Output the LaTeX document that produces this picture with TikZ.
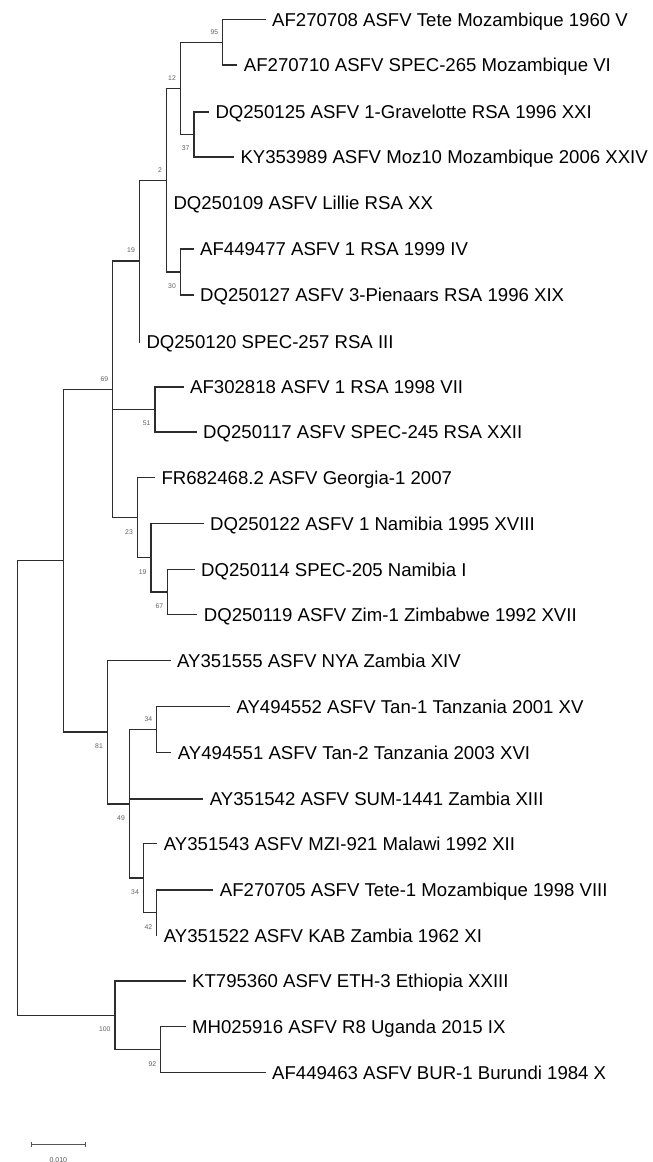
\documentclass[tikz,border=0pt]{standalone}
\usepackage{xcolor}
\usepackage{fontspec}
\setmainfont{Liberation Sans}
\usepackage{tikz}
\usetikzlibrary{arrows.meta,positioning}
\definecolor{BranchGrey}{RGB}{45,45,45}
\definecolor{SupportGrey}{RGB}{95,95,110}
\definecolor{BarGrey}{RGB}{85,85,85}

\begin{document}
\begin{tikzpicture}[
  x=1pt,y=-1pt,
  branch/.style={draw=BranchGrey,line width=1.3pt,line cap=rect},
  leaf/.style={anchor=west,inner xsep=7pt,inner ysep=0pt,text height=13.4pt,text depth=0pt,font=\fontsize{18.6}{20}\selectfont,text=black},
  bsup/.style={anchor=south east,inner sep=0pt,xshift=-4.3pt,yshift=8pt,font=\fontsize{6.8}{7}\selectfont,text=SupportGrey},
  bsdn/.style={anchor=north east,inner sep=0pt,xshift=-4.3pt,yshift=-11.5pt,font=\fontsize{6.8}{7}\selectfont,text=SupportGrey},
  scalebar/.style={draw=BarGrey,line width=0.9pt,{Bar[width=5pt]}-{Bar[width=5pt]}}
]
\useasboundingbox[fill=white] (0,0) rectangle (653,1162);
% internal nodes
\coordinate (root) at (17.7,788);
\coordinate (nA) at (63.7,560.7);
\coordinate (n69) at (112.7,389.3);
\coordinate (n19a) at (139.3,261.1);
\coordinate (n2) at (166.3,180.2);
\coordinate (n12) at (180.3,88.4);
\coordinate (n95) at (222.7,42.3);
\coordinate (n37) at (194,134.5);
\coordinate (n30) at (180.3,272);
\coordinate (n51) at (155,409.5);
\coordinate (n23) at (137.3,517.6);
\coordinate (n19b) at (151,557.7);
\coordinate (n67) at (167.7,592);
\coordinate (n81) at (107.3,732.1);
\coordinate (n49) at (129.3,803.9);
\coordinate (n34a) at (156.7,729.7);
\coordinate (n34b) at (143.3,878);
\coordinate (n42) at (156.7,912.8);
\coordinate (n100) at (115,1015.3);
\coordinate (n92) at (160.7,1049.7);
% leaves
\node[leaf] (tete) at (265,19.5) {AF270708 ASFV Tete Mozambique 1960 V};
\node[leaf] (spec265) at (236.7,65) {AF270710 ASFV SPEC-265 Mozambique VI};
\node[leaf] (gravelotte) at (208.3,112) {DQ250125 ASFV 1-Gravelotte RSA 1996 XXI};
\node[leaf] (moz10) at (233.3,157) {KY353989 ASFV Moz10 Mozambique 2006 XXIV};
\node[leaf] (lillie) at (166.3,203) {DQ250109 ASFV Lillie RSA XX};
\node[leaf] (rsa99) at (193,249) {AF449477 ASFV 1 RSA 1999 IV};
\node[leaf] (pienaars) at (193,295) {DQ250127 ASFV 3-Pienaars RSA 1996 XIX};
\node[leaf] (spec257) at (139.3,342) {DQ250120 SPEC-257 RSA III};
\node[leaf] (rsa98) at (183,387) {AF302818 ASFV 1 RSA 1998 VII};
\node[leaf] (spec245) at (196,432) {DQ250117 ASFV SPEC-245 RSA XXII};
\node[leaf] (georgia) at (154.3,477.5) {FR682468.2 ASFV Georgia-1 2007};
\node[leaf] (namibia95) at (203,523.3) {DQ250122 ASFV 1 Namibia 1995 XVIII};
\node[leaf] (spec205) at (194,569.3) {DQ250114 SPEC-205 Namibia I};
\node[leaf] (zim) at (196.7,614.7) {DQ250119 ASFV Zim-1 Zimbabwe 1992 XVII};
\node[leaf] (nya) at (170,660.3) {AY351555 ASFV NYA Zambia XIV};
\node[leaf] (tan1) at (229.3,706.7) {AY494552 ASFV Tan-1 Tanzania 2001 XV};
\node[leaf] (tan2) at (170.7,752.7) {AY494551 ASFV Tan-2 Tanzania 2003 XVI};
\node[leaf] (sum) at (202.7,799) {AY351542 ASFV SUM-1441 Zambia XIII};
\node[leaf] (mzi) at (156.7,843.3) {AY351543 ASFV MZI-921 Malawi 1992 XII};
\node[leaf] (tete1) at (212.7,890) {AF270705 ASFV Tete-1 Mozambique 1998 VIII};
\node[leaf] (kab) at (156.7,935.5) {AY351522 ASFV KAB Zambia 1962 XI};
\node[leaf] (eth) at (185,981) {KT795360 ASFV ETH-3 Ethiopia XXIII};
\node[leaf] (uganda) at (185,1026.7) {MH025916 ASFV R8 Uganda 2015 IX};
\node[leaf] (burundi) at (265,1072.7) {AF449463 ASFV BUR-1 Burundi 1984 X};
% branches
\draw[branch] (root) |- (nA);
\draw[branch] (root) |- (n100);
\draw[branch] (nA) |- (n69);
\draw[branch] (nA) |- (n81);
\draw[branch] (n69) |- (n19a);
\draw[branch] (n69) |- (n51);
\draw[branch] (n69) |- (n23);
\draw[branch] (n19a) |- (n2);
\draw[branch] (n19a) |- (spec257.west);
\draw[branch] (n2) |- (n12);
\draw[branch] (n2) |- (lillie.west);
\draw[branch] (n2) |- (n30);
\draw[branch] (n12) |- (n95);
\draw[branch] (n12) |- (n37);
\draw[branch] (n95) |- (tete.west);
\draw[branch] (n95) |- (spec265.west);
\draw[branch] (n37) |- (gravelotte.west);
\draw[branch] (n37) |- (moz10.west);
\draw[branch] (n30) |- (rsa99.west);
\draw[branch] (n30) |- (pienaars.west);
\draw[branch] (n51) |- (rsa98.west);
\draw[branch] (n51) |- (spec245.west);
\draw[branch] (n23) |- (georgia.west);
\draw[branch] (n23) |- (n19b);
\draw[branch] (n19b) |- (namibia95.west);
\draw[branch] (n19b) |- (n67);
\draw[branch] (n67) |- (spec205.west);
\draw[branch] (n67) |- (zim.west);
\draw[branch] (n81) |- (nya.west);
\draw[branch] (n81) |- (n49);
\draw[branch] (n49) |- (n34a);
\draw[branch] (n49) |- (sum.west);
\draw[branch] (n49) |- (n34b);
\draw[branch] (n34a) |- (tan1.west);
\draw[branch] (n34a) |- (tan2.west);
\draw[branch] (n34b) |- (mzi.west);
\draw[branch] (n34b) |- (n42);
\draw[branch] (n42) |- (tete1.west);
\draw[branch] (n42) |- (kab.west);
\draw[branch] (n100) |- (eth.west);
\draw[branch] (n100) |- (n92);
\draw[branch] (n92) |- (uganda.west);
\draw[branch] (n92) |- (burundi.west);
% bootstrap values
\node[bsup] (b95) at (n95) {95};
\node[bsup] (b12) at (n12) {12};
\node[bsdn] (b37) at (n37) {37};
\node[bsup] (b2) at (n2) {2};
\node[bsdn] (b30) at (n30) {30};
\node[bsup] (b19a) at (n19a) {19};
\node[bsup] (b69) at (n69) {69};
\node[bsdn] (b51) at (n51) {51};
\node[bsdn] (b23) at (n23) {23};
\node[bsdn] (b19b) at (n19b) {19};
\node[bsdn] (b67) at (n67) {67};
\node[bsdn] (b81) at (n81) {81};
\node[bsup] (b34a) at (n34a) {34};
\node[bsdn] (b49) at (n49) {49};
\node[bsdn] (b34b) at (n34b) {34};
\node[bsdn] (b42) at (n42) {42};
\node[bsdn] (b100) at (n100) {100};
\node[bsdn] (b92) at (n92) {92};
% scale bar
\coordinate (sb0) at (30.7,1144.3);
\coordinate (sb1) at (86,1144.3);
\draw[scalebar] (sb0) -- (sb1);
\node[font=\fontsize{7}{8}\selectfont,text=BarGrey,inner sep=0pt] (sblabel) at (58.3,1160) {0.010};
\end{tikzpicture}
\end{document}
